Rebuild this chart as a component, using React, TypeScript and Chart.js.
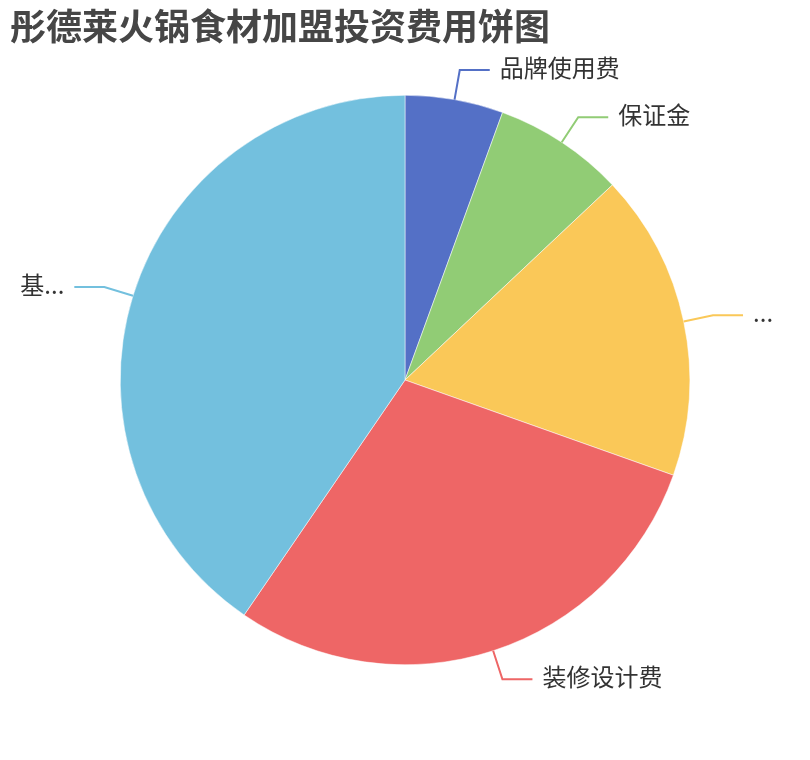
import { useEffect, useRef } from "react";
import { Chart, registerables } from "chart.js";

Chart.register(...registerables);

// Dane wykresu
const categories = ["品牌使用费", "保证金", "...", "装修设计费", "基..."];
const values = [1.5, 2, 4.7, 7.85, 10.9];
const colors = ["#5470c6", "#91cc75", "#fac858", "#ee6666", "#73c0de"];

const FONT = '"Noto Sans CJK SC", "Noto Sans", sans-serif';

// Etykiety z liniami prowadzącymi (styl ECharts)
const outsideLabels = {
  id: "outsideLabels",
  afterDatasetsDraw(chart: Chart) {
    const ctx = chart.ctx;
    const meta = chart.getDatasetMeta(0);
    ctx.save();
    meta.data.forEach((el: any, i: number) => {
      const { x, y, startAngle, endAngle, outerRadius } = el.getProps(
        ["x", "y", "startAngle", "endAngle", "outerRadius"],
        true
      );
      const mid = (startAngle + endAngle) / 2;
      const cos = Math.cos(mid);
      const sin = Math.sin(mid);
      const x0 = x + cos * outerRadius;
      const y0 = y + sin * outerRadius;
      const x1 = x + cos * (outerRadius + 30);
      const y1 = y + sin * (outerRadius + 30);
      const dir = cos >= 0 ? 1 : -1;
      const x2 = x1 + dir * 30;

      ctx.strokeStyle = colors[i];
      ctx.lineWidth = 2;
      ctx.beginPath();
      ctx.moveTo(x0, y0);
      ctx.lineTo(x1, y1);
      ctx.lineTo(x2, y1);
      ctx.stroke();

      ctx.fillStyle = "#333";
      ctx.font = `24px ${FONT}`;
      ctx.textBaseline = "middle";
      ctx.textAlign = dir > 0 ? "left" : "right";
      ctx.fillText(categories[i], x2 + dir * 10, y1 - 2);
    });
    ctx.restore();
  },
};

export default function App() {
  const chartRef = useRef<HTMLCanvasElement | null>(null);
  const chartInstance = useRef<Chart | null>(null);

  useEffect(() => {
    if (!chartRef.current) return;
    const ctx = chartRef.current.getContext("2d");
    if (!ctx) return;

    chartInstance.current = new Chart(ctx, {
      type: "pie",
      data: {
        labels: categories,
        datasets: [
          {
            data: values,
            backgroundColor: colors,
            borderColor: "#fff",
            borderWidth: 0.5,
          },
        ],
      },
      options: {
        responsive: false,
        animation: false,
        layout: {
          padding: { left: 120, right: 120, top: 95, bottom: 95 },
        },
        plugins: {
          legend: { display: false },
          tooltip: { enabled: false },
        },
      },
      plugins: [outsideLabels],
    });

    return () => {
      if (chartInstance.current) {
        chartInstance.current.destroy();
        chartInstance.current = null;
      }
    };
  }, []);

  return (
    <div
      style={{
        position: "fixed",
        left: 0,
        top: 0,
        width: 810,
        height: 760,
        background: "#fff",
      }}
    >
      <canvas ref={chartRef} width={810} height={760} />
      <div
        style={{
          position: "absolute",
          left: 10,
          top: 6,
          fontFamily: FONT,
          fontSize: 36,
          lineHeight: "36px",
          fontWeight: "bold",
          color: "#464646",
          whiteSpace: "nowrap",
        }}
      >
        彤德莱火锅食材加盟投资费用饼图
      </div>
    </div>
  );
}
